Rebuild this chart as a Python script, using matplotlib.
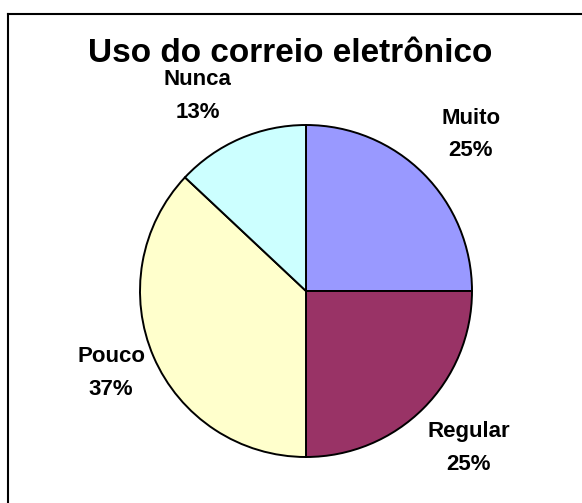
import matplotlib
matplotlib.use("Agg")
import matplotlib.pyplot as plt
from matplotlib.lines import Line2D
import numpy as np

categories = ["Muito", "Regular", "Pouco", "Nunca"]
values = [25, 25, 37, 13]
colors = ["#9999FF", "#993366", "#FFFFCC", "#CCFFFF"]
title = "Uso do correio eletrônico"

W, H = 582, 503
fig = plt.figure(figsize=(W / 100, H / 100), dpi=100)
fig.patch.set_facecolor("white")

cx, cy, r = 306, 291, 166
ax = fig.add_axes([(cx - r) / W, (H - cy - r) / H, 2 * r / W, 2 * r / H])
wedges, _ = ax.pie(values, colors=colors, startangle=90, counterclock=False,
                   wedgeprops=dict(edgecolor="black", linewidth=1.4))
ax.set_xlim(-1, 1)
ax.set_ylim(-1, 1)
ax.set_aspect("equal")
ax.axis("off")

# label placement per slice (distance from centre in radii, angle offset in degrees)
label_dist = [1.38, 1.36, 1.27, 1.37]
angle_adj = [-1, 1, -1, 5.0]
y_shift = [-2.5, 0, -2, -5]          # px
half_gap = [16, 16.5, 16.5, 16.2]    # px between line centres / 2
fs = 16
for w, c, v, d, da, g, ys in zip(wedges, categories, values, label_dist, angle_adj,
                                  half_gap, y_shift):
    ang = np.deg2rad((w.theta1 + w.theta2) / 2 + da)
    x, y = d * np.cos(ang), d * np.sin(ang)
    for txt, off in ((c, g), (f"{v}%", -g)):
        ax.annotate(txt, xy=(x, y), xytext=(0, (off + ys) * 0.72), textcoords="offset points",
                    ha="center", va="center", fontsize=fs, fontweight="bold",
                    family="Liberation Sans", annotation_clip=False)

fig.text(290 / W, 1 - 53 / H, title, ha="center", va="center", fontsize=24,
         fontweight="bold", family="Liberation Sans")

# outer chart-area border (top and left visible)
lw = 1.5
fig.add_artist(Line2D([8 / W, 1.0], [1 - 14 / H, 1 - 14 / H], transform=fig.transFigure,
                      color="black", linewidth=lw))
fig.add_artist(Line2D([8 / W, 8 / W], [1 - 14 / H, 0.0], transform=fig.transFigure,
                      color="black", linewidth=lw))

fig.savefig("out.png", dpi=100, facecolor="white")
